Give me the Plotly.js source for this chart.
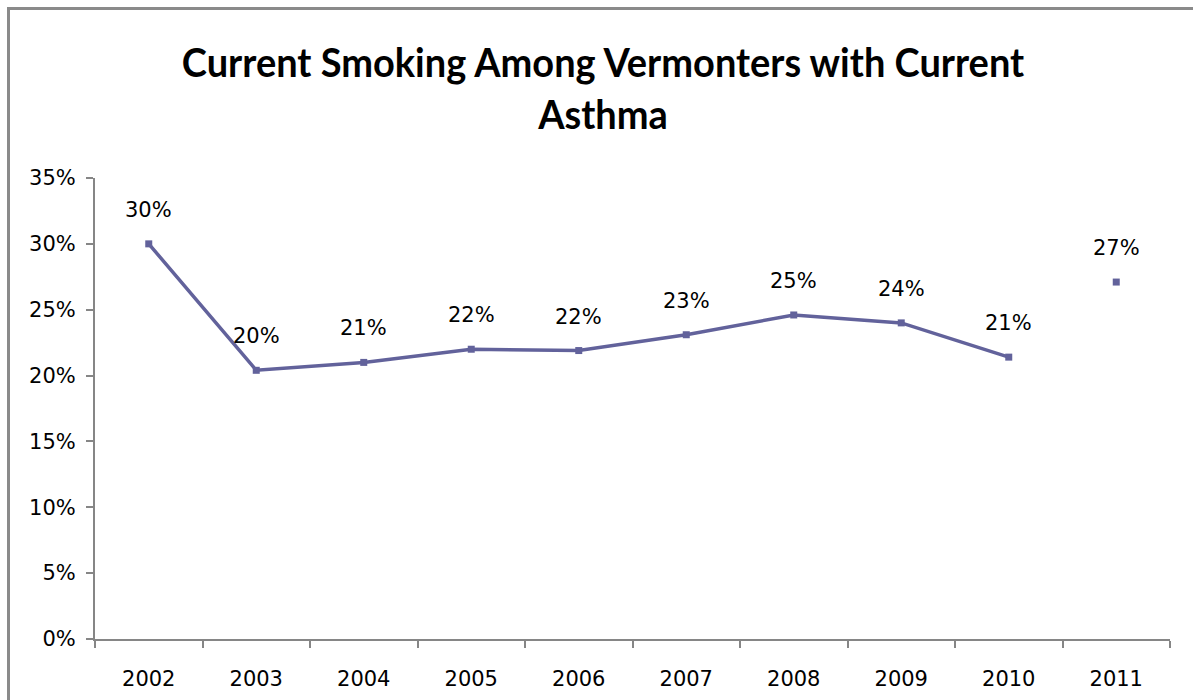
<!DOCTYPE html>
<html>
<head>
<meta charset="utf-8">
<script src="https://cdn.plot.ly/plotly-3.0.1.min.js"></script>
<style>
  html, body { margin: 0; padding: 0; background: #fff; }
  #wrap { position: relative; width: 1193px; height: 700px; }
  #chart { width: 1193px; height: 700px; }
  #frame { position: absolute; left: 7px; top: 7px; right: -4px; bottom: -4px;
           border-left: 3px solid #8a8a8a; border-top: 3px solid #8a8a8a; pointer-events: none; }
</style>
</head>
<body>
<div id="wrap">
  <div id="chart"></div>
  <div id="frame"></div>
</div>
<script>
// Current smoking prevalence (%) among Vermont adults with current asthma
const years = ['2002', '2003', '2004', '2005', '2006', '2007', '2008', '2009', '2010', '2011'];
const smokingPct = [30.0, 20.4, 21.0, 22.0, 21.9, 23.1, 24.6, 24.0, 21.4, 27.1];
// 2011 uses a new survey method, so it is not joined to the earlier trend line
const trendCount = 9;

const lineColor = '#62629b';
const labelFont = { family: 'DejaVu Sans, Verdana, sans-serif', size: 21, color: '#000' };
const titleCenterX = 603;
const titleSqueeze = 0.95;

const trend = {
  type: 'scatter',
  mode: 'lines+markers',
  x: years.slice(0, trendCount),
  y: smokingPct.slice(0, trendCount),
  line: { color: lineColor, width: 3.5 },
  marker: { symbol: 'square', size: 7, color: lineColor },
  hoverinfo: 'x+y'
};

const recent = {
  type: 'scatter',
  mode: 'markers',
  x: years.slice(trendCount),
  y: smokingPct.slice(trendCount),
  marker: { symbol: 'square', size: 7, color: lineColor },
  hoverinfo: 'x+y'
};

// value labels above each point (x given as category index)
const valueLabels = years.map((yr, i) => ({
  x: i,
  y: smokingPct[i],
  text: Math.round(smokingPct[i]) + '%',
  showarrow: false,
  yanchor: 'middle',
  yshift: 34,
  font: labelFont
}));

const layout = {
  width: 1193,
  height: 700,
  margin: { l: 95, r: 23, t: 178, b: 61 },
  paper_bgcolor: '#fff',
  plot_bgcolor: '#fff',
  showlegend: false,
  title: {
    text: 'Current Smoking Among Vermonters with Current<br>Asthma',
    font: { family: 'Lato, Liberation Sans Narrow, sans-serif', size: 40, color: '#000', weight: 'bold' },
    xref: 'container', x: titleCenterX / 1193,
    yref: 'container', y: 0.89, yanchor: 'top'
  },
  xaxis: {
    type: 'category',
    range: [-0.5, 9.5],
    tickson: 'boundaries',
    ticks: 'outside',
    ticklen: 7,
    tickwidth: 2,
    tickcolor: '#868686',
    showline: true,
    linecolor: '#868686',
    linewidth: 2,
    showgrid: false,
    zeroline: false,
    tickfont: labelFont,
    ticklabelstandoff: 20,
    fixedrange: true
  },
  yaxis: {
    range: [0, 35],
    dtick: 5,
    tick0: 0,
    ticksuffix: '%',
    ticks: 'outside',
    ticklen: 7,
    tickwidth: 2,
    tickcolor: '#868686',
    showline: true,
    linecolor: '#868686',
    linewidth: 2,
    showgrid: false,
    zeroline: false,
    tickfont: labelFont,
    ticklabelstandoff: 6,
    fixedrange: true
  },
  annotations: valueLabels
};

Plotly.newPlot('chart', [trend, recent], layout, { displayModeBar: false, staticPlot: true })
  .then(gd => {
    // narrow the bold title face a little, keeping it centred
    const t = gd.querySelector('.g-gtitle');
    if (t) {
      t.setAttribute('transform',
        'translate(' + (titleCenterX * (1 - titleSqueeze)) + ',0) scale(' + titleSqueeze + ',1)');
    }
  });
</script>
</body>
</html>
